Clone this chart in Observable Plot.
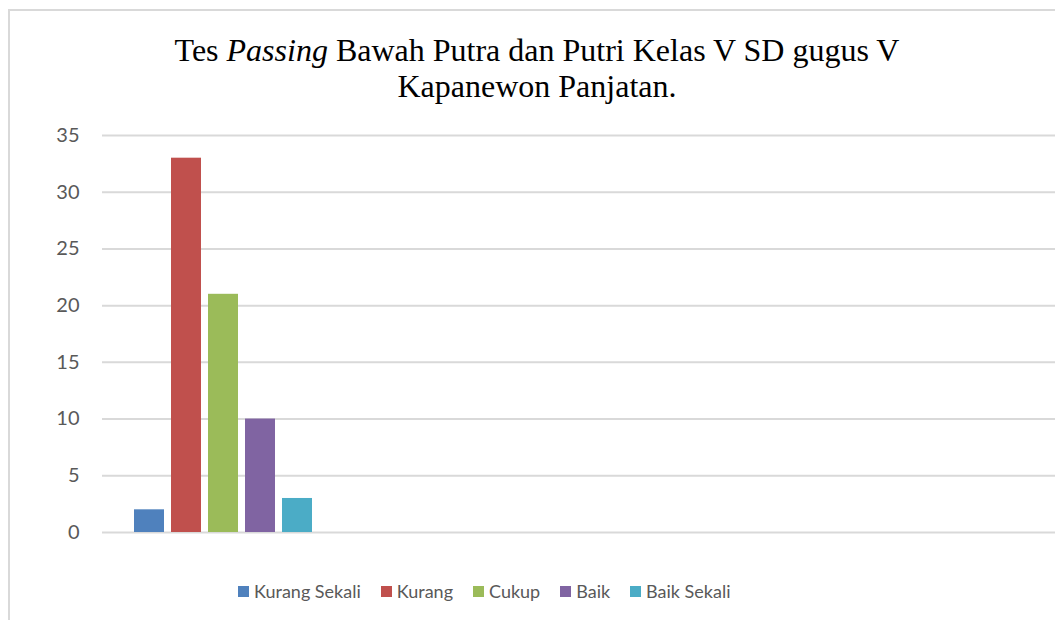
<!DOCTYPE html>
<html>
<head>
<meta charset="utf-8">
<script src="https://cdn.jsdelivr.net/npm/d3@7"></script>
<script src="https://cdn.jsdelivr.net/npm/@observablehq/plot@0.6"></script>
<style>
  html, body { margin: 0; padding: 0; background: #fff; overflow: hidden; width: 1055px; height: 620px; }
  #wrap { position: relative; width: 1055px; height: 620px; overflow: hidden; }
  #frame { position: absolute; left: 8px; top: 9px; width: 1200px; height: 800px; border: 2px solid #d9d9d9; box-sizing: border-box; }
  #title { position: absolute; left: 0; width: 1074px; top: 32px; text-align: center; font-family: "Liberation Serif", "Times New Roman", serif; font-size: 32px; line-height: 36px; color: #000; }
  #chart { position: absolute; left: 0; top: 0; width: 1090px; }
  #legend { position: absolute; left: 238px; top: 580px; display: flex; align-items: center; font-family: Lato, "Open Sans", sans-serif; font-size: 18px; color: #595959; white-space: nowrap; }
  .item { display: flex; align-items: center; margin-right: 20px; }
  .sw { width: 11px; height: 11px; margin-right: 5px; }
</style>
</head>
<body>
<div id="wrap">
  <div id="frame"></div>
  <div id="title">Tes <i>Passing</i> Bawah Putra dan Putri Kelas V SD gugus V<br>Kapanewon Panjatan.</div>
  <div id="chart"></div>
  <div id="legend"></div>
</div>
<script>
const series = ["Kurang Sekali", "Kurang", "Cukup", "Baik", "Baik Sekali"];
const values = [2, 33, 21, 10, 3];
const colors = ["#4F81BD", "#C0504D", "#9BBB59", "#8064A2", "#4BACC6"];
const groups = ["1", "2", "3", "4"];
const yTicks = [0, 5, 10, 15, 20, 25, 30, 35];

const data = series.map((s, i) => ({group: groups[0], series: s, value: values[i]}));
const gridRows = groups.flatMap(g => yTicks.map(t => ({group: g, tick: t})));

const chart = Plot.plot({
  width: 1090,
  height: 560,
  marginLeft: 102,
  marginRight: 8,
  marginTop: 135,
  marginBottom: 28,
  style: {background: "transparent", fontFamily: "Lato, 'Open Sans', sans-serif", fontSize: "20px", color: "#595959", maxWidth: "none"},
  fx: {domain: groups, padding: 0, axis: null},
  x: {domain: series, paddingInner: 0.19, paddingOuter: 0.905, align: 0.47, axis: null},
  y: {domain: [0, 35], ticks: yTicks, label: null, tickSize: 0, tickPadding: 23, tickFormat: d => d},
  color: {domain: series, range: colors},
  marks: [
    Plot.ruleY(gridRows, {fx: "group", y: "tick", stroke: "#d9d9d9", strokeWidth: 2}),
    Plot.axisY(yTicks, {tickSize: 0, tickPadding: 23, fill: "#595959", fontSize: 20, label: null}),
    Plot.barY(data, {fx: "group", x: "series", y: "value", fill: "series"})
  ]
});
document.getElementById("chart").appendChild(chart);

const legend = document.getElementById("legend");
series.forEach((s, i) => {
  const it = document.createElement("div");
  it.className = "item";
  const sw = document.createElement("div");
  sw.className = "sw";
  sw.style.background = colors[i];
  const t = document.createElement("span");
  t.textContent = s;
  it.appendChild(sw);
  it.appendChild(t);
  legend.appendChild(it);
});
</script>
</body>
</html>
